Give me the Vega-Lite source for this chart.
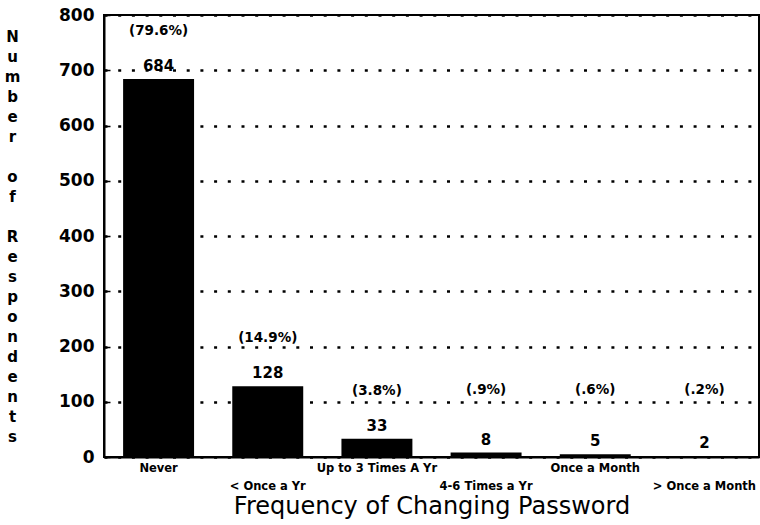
{
  "$schema": "https://vega.github.io/schema/vega-lite/v6.json",
  "autosize": "none",
  "width": 655,
  "height": 442,
  "padding": {"left": 104, "top": 15, "right": 1, "bottom": 68},
  "background": "white",
  "config": {
    "view": {"stroke": "black", "strokeWidth": 2},
    "axis": {"labelColor": "black", "titleColor": "black", "domainColor": "black", "domainWidth": 2}
  },
  "data": {
    "values": [
      {"freq": "Never", "count": 684, "pct": "(79.6%)"},
      {"freq": "< Once a Yr", "count": 128, "pct": "(14.9%)"},
      {"freq": "Up to 3 Times A Yr", "count": 33, "pct": "(3.8%)"},
      {"freq": "4-6 Times a Yr", "count": 8, "pct": "(.9%)"},
      {"freq": "Once a Month", "count": 5, "pct": "(.6%)"},
      {"freq": "> Once a Month", "count": 2, "pct": "(.2%)"}
    ]
  },
  "encoding": {
    "x": {
      "field": "freq",
      "type": "nominal",
      "sort": null,
      "scale": {"paddingInner": 0.35, "paddingOuter": 0.175},
      "axis": {
        "labelAngle": 0,
        "ticks": false,
        "labelOverlap": false,
        "labelFont": "DejaVu Sans",
        "labelFontWeight": "bold",
        "labelFontSize": 11.5,
        "labelLineHeight": 18,
        "labelPadding": 5,
        "labelExpr": "indexof(['< Once a Yr','4-6 Times a Yr','> Once a Month'], datum.value) >= 0 ? ['', datum.label] : datum.label",
        "title": "Frequency of Changing Password",
        "titleFont": "DejaVu Sans",
        "titleFontWeight": "normal",
        "titleFontSize": 24,
        "titlePadding": 3
      }
    }
  },
  "layer": [
    {
      "mark": {"type": "bar", "color": "black"},
      "encoding": {
        "y": {
          "field": "count",
          "type": "quantitative",
          "scale": {"domain": [0, 800], "nice": false},
          "axis": {
            "values": [0, 100, 200, 300, 400, 500, 600, 700, 800],
            "labelFont": "DejaVu Sans",
            "labelFontWeight": "bold",
            "labelFontSize": 17,
            "tickSize": -6,
            "tickColor": "black",
            "tickWidth": 1.5,
            "labelPadding": 16,
            "grid": true,
            "gridColor": "black",
            "gridDash": [3, 10.7],
            "gridWidth": 2.5,
            "gridOpacity": 1,
            "title": ["N", "u", "m", "b", "e", "r", "\u200b", "o", "f", "\u200b", "R", "e", "s", "p", "o", "n", "d", "e", "n", "t", "s"],
            "titleAngle": 0,
            "titleX": -92,
            "titleY": 14,
            "titleAlign": "center",
            "titleBaseline": "top",
            "titleLineHeight": 20,
            "titleFont": "DejaVu Sans",
            "titleFontWeight": "bold",
            "titleFontSize": 15
          }
        }
      }
    },
    {
      "mark": {"type": "text", "font": "DejaVu Sans", "fontWeight": "bold", "fontSize": 15, "baseline": "alphabetic", "dy": -8, "color": "black"},
      "encoding": {
        "y": {"field": "count", "type": "quantitative"},
        "text": {"field": "count", "type": "quantitative"}
      }
    },
    {
      "transform": [{"filter": "datum.count >= 30"}],
      "mark": {"type": "text", "font": "DejaVu Sans", "fontWeight": "bold", "fontSize": 13.5, "baseline": "alphabetic", "dy": -44, "color": "black"},
      "encoding": {
        "y": {"field": "count", "type": "quantitative"},
        "text": {"field": "pct", "type": "nominal"}
      }
    },
    {
      "transform": [{"filter": "datum.count < 30"}],
      "mark": {"type": "text", "font": "DejaVu Sans", "fontWeight": "bold", "fontSize": 13.5, "baseline": "alphabetic", "dy": -46, "color": "black"},
      "encoding": {
        "y": {"datum": 30, "type": "quantitative"},
        "text": {"field": "pct", "type": "nominal"}
      }
    }
  ]
}
